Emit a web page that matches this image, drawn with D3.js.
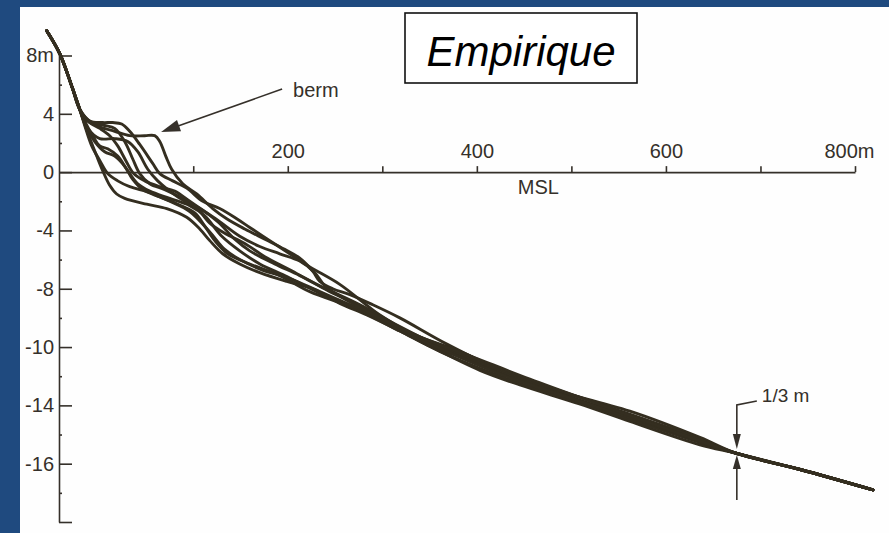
<!DOCTYPE html>
<html>
<head>
<meta charset="utf-8">
<script src="https://cdn.jsdelivr.net/npm/d3@7"></script>
<style>
  body { margin: 0; background: #ffffff; }
  svg { display: block; font-family: "Liberation Sans", Arial, Helvetica, sans-serif; }
  .axis path, .axis line { stroke: #35302a; stroke-width: 1.6; }
  .axis text { fill: #35302a; font-size: 20px; }
</style>
</head>
<body>
<script>
// beach profiles: [distance (m), elevation (m)]
const sharedStart = [[-55, 9.7], [-41, 8.1], [-28, 5.8], [-20, 4.3]];
const sharedEnd = [[675, -19.3], [742, -20.4], [819, -21.8]];

const profile1 = [[-11.6, 2.7], [-2.1, 1.1], [4.2, 0.1], [11.6, -0.9], [19, -1.5], [27.5, -1.8], [50.8, -2.2], [72, -2.5], [93.1, -3.1], [106.9, -3.9], [117.5, -4.7], [131.2, -5.6], [149.2, -6.3], [170.4, -6.9], [198.9, -7.5], [226.5, -8], [255, -9], [283.6, -9.8], [318.5, -10.9], [342.9, -11.7], [403.2, -13.6], [445.5, -14.6], [508.5, -15.9], [561.9, -17.1], [635.9, -18.7]];
const profile2 = [[-13.8, 3.6], [1.1, 3.1], [16.9, 2.8], [32.8, 2.5], [48.7, 2.5], [59.3, 2.5], [64.6, 2.1], [70.9, 1.1], [77.2, 0.2], [88.9, -0.8], [103.7, -1.5], [120.6, -2.5], [135.4, -3.2], [154.5, -3.9], [175.7, -4.6], [196.8, -5.3], [212.7, -5.9], [226.5, -6.8], [233.9, -7.5], [247.6, -8], [265.6, -8.4], [289.9, -9.1], [318.5, -10], [368.3, -11.8], [431.7, -13.8], [474.1, -14.8], [561.9, -16.4], [635.9, -18.2]];
const profile3 = [[-9.5, 3.5], [4.2, 3.4], [14.8, 3.4], [24.3, 3.3], [32.8, 2.8], [43.4, 1.9], [57.1, 0.6], [64.6, -0.1], [78.3, -0.6], [93.1, -1.1], [110.1, -2], [128, -2.5], [146, -3.2], [159.8, -3.8], [181, -4.7], [202.1, -5.6], [223.3, -6.5], [255, -7.7], [297.4, -9.8], [332.3, -11.1], [382, -12.3], [445.5, -14.2], [530.2, -16.1], [614.8, -17.8]];
const profile4 = [[-7.4, 3.4], [6.3, 3.2], [16.9, 3], [27.5, 2.1], [36, 0.9], [43.4, -0.1], [54, -0.8], [69.8, -1.2], [85.7, -1.7], [101.6, -2.3], [117.5, -3.5], [133.3, -4.2], [154.5, -4.9], [175.7, -5.8], [202.1, -6.7], [233.9, -7.8], [276.2, -9.1], [318.5, -10.6], [371.4, -12.3], [424.3, -13.7], [487.8, -15.2], [572.5, -17.1]];
const profile5 = [[-13.8, 3.2], [-4.2, 2.1], [6.3, 1.4], [16.9, 1.1], [27.5, 0.4], [36, -0.5], [46.6, -1.2], [64.6, -1.7], [83.6, -2.2], [101.6, -2.8], [112.2, -3.7], [122.8, -4.7], [136.5, -5.6], [159.8, -6.3], [191.5, -7.1], [223.3, -8.2], [265.6, -9.2], [307.9, -10.4], [350.3, -11.9], [403.2, -13.1], [466.7, -14.7], [551.3, -16.7]];
const profile6 = [[-14.8, 3.5], [-6.3, 2.5], [1.1, 1.8], [9.5, 1.6], [20.1, 1.1], [30.7, 0.1], [41.3, -0.8], [54, -1.3], [75.1, -1.8], [96.3, -2.3], [112.2, -3], [130.2, -4.4], [149.2, -5.4], [170.4, -6.3], [196.8, -7.1], [233.9, -8.3], [276.2, -9.5], [318.5, -10.9], [360.8, -12.3], [424.3, -14], [487.8, -15.4], [583.1, -17.4]];
const profile7 = [[-11.6, 3], [1.1, 2.3], [16.9, 2.3], [30.7, 2.1], [41.3, 1.4], [51.9, 0.2], [62.4, -0.6], [75.1, -1.3], [91, -2], [106.9, -2.5], [125.9, -3.4], [143.9, -4.6], [159.8, -5.4], [186.2, -6.3], [212.7, -7.1], [244.4, -8.2], [286.8, -9.5], [339.7, -11.5], [392.6, -12.7], [456.1, -14.3], [530.2, -15.9], [614.8, -17.8]];
const profile8 = [[-14.8, 3.2], [-7.4, 1.8], [1.1, 0.8], [9.5, -0.1], [20.1, -0.6], [32.8, -1], [54, -1.4], [75.1, -2], [96.3, -2.7], [117.5, -4.1], [133.3, -5.3], [149.2, -6], [172.5, -6.7], [202.1, -7.3], [233.9, -8.2], [276.2, -9.4], [318.5, -10.8], [371.4, -12.4], [434.9, -14.1], [508.5, -15.7], [593.7, -17.5]];
const profile9 = [[-9.5, 3.4], [1.1, 3], [11.6, 2.5], [20.1, 1.8], [28.6, 0.8], [37, -0.1], [48.7, -0.6], [64.6, -1], [80.4, -1.3], [96.3, -2], [112.2, -2.7], [128, -3.4], [149.2, -4.4], [170.4, -5.1], [191.5, -5.6], [212.7, -6.1], [228.6, -6.9], [239.2, -7.8], [260.3, -8.7], [297.4, -10], [339.7, -11.3], [392.6, -12.6], [456.1, -14.2], [540.7, -16.2], [625.4, -18.2]];

const profiles = [profile1, profile2, profile3, profile4, profile5, profile6, profile7, profile8, profile9];

// axes
const xTicks = [100, 200, 300, 400, 500, 600, 700, 800];
const xLabels = ["", "200", "", "400", "", "600", "", "800m"];
const yTicks = [8, 4, 0, -4, -8, -12, -16, -20, -24];
const yLabels = ["8m", "4", "0", "-4", "-8", "-10", "-14", "-16", ""];
const yMinor = [6, 2, -2, -6, -10, -14, -18, -22];

const W = 889, H = 533;
const svg = d3.select("body").append("svg").attr("width", W).attr("height", H);

// page + frame
svg.append("rect").attr("width", W).attr("height", H).attr("fill", "#fefefe");
svg.append("rect").attr("x", 0).attr("y", 0).attr("width", 20).attr("height", H).attr("fill", "#1f4a7f");
svg.append("rect").attr("x", 0).attr("y", 0).attr("width", W).attr("height", 7).attr("fill", "#1f4a7f");

const x = d3.scaleLinear().domain([-42, 800]).range([59, 855]);
const y = d3.scaleLinear().domain([8, -24]).range([55.5, 522]);

// y axis, ticks pointing inward
svg.append("g")
    .attr("class", "axis")
    .attr("transform", `translate(${x(-42)},0)`)
    .call(d3.axisLeft(y)
        .tickValues(yTicks)
        .tickFormat((d, i) => yLabels[i])
        .tickSizeInner(-13)
        .tickSizeOuter(0)
        .tickPadding(5));

svg.append("g")
    .attr("class", "axis")
    .attr("transform", `translate(${x(-42)},0)`)
    .call(d3.axisLeft(y).tickValues(yMinor).tickFormat("").tickSize(-3))
    .select(".domain").remove();

// x axis on MSL
const xAxis = svg.append("g")
    .attr("class", "axis")
    .attr("transform", `translate(0,${y(0)})`)
    .call(d3.axisTop(x)
        .tickValues(xTicks)
        .tickFormat((d, i) => xLabels[i])
        .tickSizeInner(6)
        .tickSizeOuter(0)
        .tickPadding(8));

xAxis.selectAll(".tick text")
    .filter(d => d === 800)
    .attr("text-anchor", "end")
    .attr("x", 19);

svg.append("text")
    .attr("x", x(465))
    .attr("y", y(0) + 22)
    .attr("text-anchor", "middle")
    .attr("font-size", 20)
    .attr("fill", "#35302a")
    .text("MSL");

// profiles
const line = d3.line()
    .x(d => x(d[0]))
    .y(d => y(d[1]))
    .curve(d3.curveCatmullRom.alpha(0.5));

svg.append("g")
    .selectAll("path")
    .data(profiles)
    .enter().append("path")
    .attr("d", p => line(sharedStart.concat(p, sharedEnd)))
    .attr("fill", "none")
    .attr("stroke", "#342e20")
    .attr("stroke-width", 2.9)
    .attr("stroke-linejoin", "round")
    .attr("stroke-linecap", "round");

// berm annotation
const bermFrom = [194, 5.7], bermTip = [66, 2.75];
const bx0 = x(bermFrom[0]), by0 = y(bermFrom[1]);
const bx1 = x(bermTip[0]), by1 = y(bermTip[1]);
const ang = Math.atan2(by1 - by0, bx1 - bx0);
svg.append("line")
    .attr("x1", bx0).attr("y1", by0)
    .attr("x2", bx1 - 12 * Math.cos(ang)).attr("y2", by1 - 12 * Math.sin(ang))
    .attr("stroke", "#35302a").attr("stroke-width", 1.6);
svg.append("path")
    .attr("d", `M0,0 L-19,-6 L-19,6 Z`)
    .attr("transform", `translate(${bx1},${by1}) rotate(${ang * 180 / Math.PI})`)
    .attr("fill", "#35302a");
svg.append("text")
    .attr("x", bx0 + 11).attr("y", by0 + 8)
    .attr("font-size", 20).attr("fill", "#35302a")
    .text("berm");

// 1/3 m annotation at the closure point
const cx = x(675), cy = y(-19.2);
const ann = svg.append("g").attr("stroke", "#35302a").attr("stroke-width", 1.6).attr("fill", "none");
ann.append("path").attr("d", `M${cx},${cy - 18} L${cx},${cy - 47} L${cx + 20},${cy - 51}`);
ann.append("path").attr("d", `M${cx},${cy + 16} L${cx},${cy + 48}`);
svg.append("path")
    .attr("d", `M${cx - 4},${cy - 18} L${cx + 4},${cy - 18} L${cx},${cy - 3} Z`)
    .attr("fill", "#35302a");
svg.append("path")
    .attr("d", `M${cx - 4},${cy + 17} L${cx + 4},${cy + 17} L${cx},${cy + 3} Z`)
    .attr("fill", "#35302a");
svg.append("text")
    .attr("x", cx + 25).attr("y", cy - 50)
    .attr("font-size", 19).attr("fill", "#35302a")
    .text("1/3 m");

// title box
svg.append("rect")
    .attr("x", 405).attr("y", 13).attr("width", 232).attr("height", 70)
    .attr("fill", "#ffffff").attr("stroke", "#111").attr("stroke-width", 1.6);
svg.append("text")
    .attr("x", 521).attr("y", 66)
    .attr("text-anchor", "middle")
    .attr("font-size", 42).attr("font-style", "italic")
    .attr("fill", "#000")
    .text("Empirique");
</script>
</body>
</html>
